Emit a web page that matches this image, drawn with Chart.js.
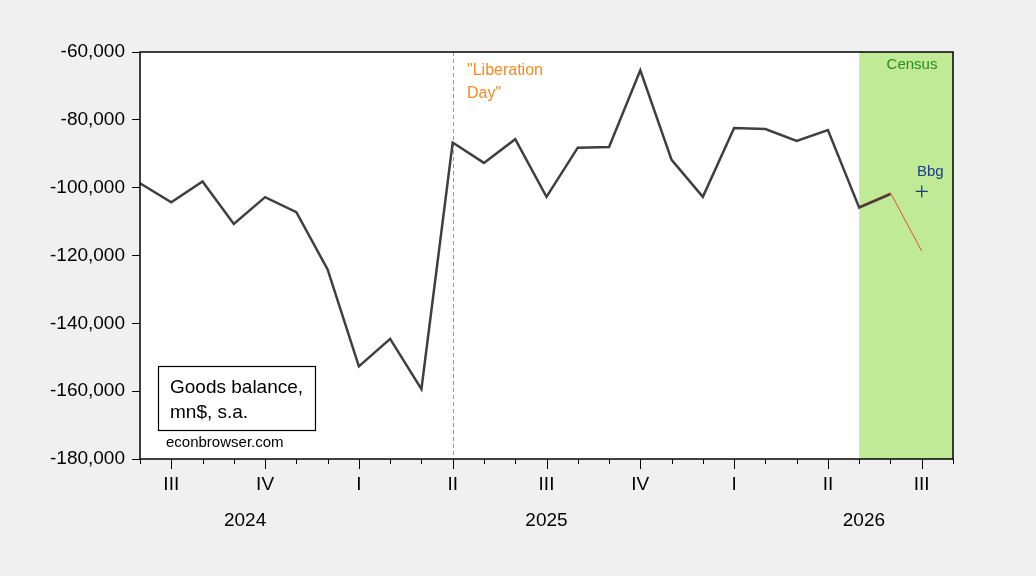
<!DOCTYPE html>
<html><head><meta charset="utf-8">
<script src="https://cdn.jsdelivr.net/npm/chart.js@4/dist/chart.umd.min.js"></script>
<style>html,body{margin:0;padding:0;background:#f0f0f0;}#wrap{width:1036px;height:576px;position:relative;}</style>
</head><body><div id="wrap"><canvas id="c"></canvas></div>
<script>
// ---- data ----
const months = ['Jun 2024','Jul 2024','Aug 2024','Sep 2024','Oct 2024','Nov 2024','Dec 2024',
  'Jan 2025','Feb 2025','Mar 2025','Apr 2025','May 2025','Jun 2025','Jul 2025','Aug 2025','Sep 2025','Oct 2025','Nov 2025','Dec 2025',
  'Jan 2026','Feb 2026','Mar 2026','Apr 2026','May 2026','Jun 2026','Jul 2026','Aug 2026'];
const quarterLabels = ['','III','','','IV','','','I','','','II','','','III','','','IV','','','I','','','II','','','III',''];
const yearLabels = ['2024','2025','2026'];
const goodsBalance = [-98700,-104300,-98200,-110700,-102800,-107200,-124100,
  -152700,-144600,-159400,-86700,-92700,-85700,-102700,-88200,-88000,-65400,-91800,-102700,
  -82400,-82700,-86200,-83000,-105900,-101900,null,null];
const bbgPath = [null,null,null,null,null,null,null,null,null,null,null,null,null,null,null,null,null,null,null,
  null,null,null,null,-105500,-101500,-118700,null];
const bbgPoint = [null,null,null,null,null,null,null,null,null,null,null,null,null,null,null,null,null,null,null,
  null,null,null,null,null,null,-101100,null];
const yTicks = [-180000,-160000,-140000,-120000,-100000,-80000,-60000];
const liberationMonth = 'Apr 2025';
const censusStartMonth = 'May 2026';

const FONT = '"Liberation Sans", Arial, sans-serif';

const decor = {
  id: 'decor',
  beforeDraw(chart) {
    const {ctx, chartArea: a} = chart;
    ctx.save();
    ctx.fillStyle = '#f0f0f0';
    ctx.fillRect(0, 0, chart.width, chart.height);
    ctx.fillStyle = '#ffffff';
    ctx.fillRect(a.left, a.top, a.right - a.left, a.bottom - a.top);
    ctx.restore();
  },
  beforeDatasetsDraw(chart) {
    const {ctx, chartArea: a, scales: {x}} = chart;
    ctx.save();
    const gx = x.getPixelForValue(months.indexOf(censusStartMonth));
    ctx.fillStyle = '#c0ea95';
    ctx.fillRect(gx, a.top, a.right - gx, a.bottom - a.top);
    const lx = Math.round(x.getPixelForValue(months.indexOf(liberationMonth))) + 0.5;
    ctx.strokeStyle = '#f08422';
    ctx.lineWidth = 1;
    ctx.setLineDash([4, 3]);
    ctx.beginPath(); ctx.moveTo(lx, a.top); ctx.lineTo(lx, a.bottom); ctx.stroke();
    ctx.restore();
  },
  afterDatasetsDraw(chart) {
    const {ctx, chartArea: a, scales: {x}} = chart;
    ctx.save();
    // frame
    ctx.strokeStyle = '#000'; ctx.lineWidth = 1.5;
    ctx.strokeRect(a.left, a.top, a.right - a.left, a.bottom - a.top);
    // x ticks
    ctx.lineWidth = 1;
    for (let i = 0; i < months.length; i++) {
      const px = Math.round(x.getPixelForValue(i)) + 0.5;
      const len = quarterLabels[i] ? 10 : 5;
      ctx.beginPath(); ctx.moveTo(px, a.bottom); ctx.lineTo(px, a.bottom + len); ctx.stroke();
    }
    // quarter labels
    ctx.fillStyle = '#000';
    ctx.textAlign = 'center'; ctx.textBaseline = 'middle';
    ctx.font = '19px ' + FONT;
    for (let i = 0; i < months.length; i++) {
      if (quarterLabels[i]) ctx.fillText(quarterLabels[i], x.getPixelForValue(i), a.bottom + 26);
    }
    // year labels
    ctx.font = '19px ' + FONT;
    const step = (a.right - a.left) / (months.length - 1);
    const yearCenters = [3.36, 13.0, 23.15];
    yearLabels.forEach((t, k) => ctx.fillText(t, a.left + yearCenters[k] * step, a.bottom + 62));
    // annotations
    ctx.textAlign = 'left';
    ctx.font = '16px ' + FONT;
    ctx.fillStyle = '#f58a1f';
    ctx.fillText('"Liberation', 467, 71);
    ctx.fillText('Day"', 467, 94);
    ctx.textAlign = 'center';
    ctx.font = '15px ' + FONT;
    ctx.fillStyle = '#2a8c1c';
    ctx.fillText('Census', 912, 65);
    ctx.textAlign = 'left';
    ctx.fillStyle = '#1c3d8c';
    ctx.fillText('Bbg', 917, 172);
    // legend box
    ctx.fillStyle = '#fff';
    ctx.fillRect(158.5, 366.5, 157, 64);
    ctx.strokeStyle = '#000'; ctx.lineWidth = 1.2;
    ctx.strokeRect(158.5, 366.5, 157, 64);
    ctx.fillStyle = '#000';
    ctx.font = '19px ' + FONT;
    ctx.fillText('Goods balance,', 170, 388);
    ctx.fillText('mn$, s.a.', 170, 413);
    ctx.font = '15px ' + FONT;
    ctx.fillText('econbrowser.com', 166, 443);
    ctx.restore();
  }
};

new Chart(document.getElementById('c'), {
  type: 'line',
  data: {
    labels: months,
    datasets: [
      {label: 'Bbg path', data: bbgPath, borderColor: '#e0503a', borderWidth: 1, pointRadius: 0, order: 2, spanGaps: false},
      {label: 'Goods balance', data: goodsBalance, borderColor: '#3f3f3f', borderWidth: 2.5, pointRadius: 0, order: 1},
      {label: 'Bbg', data: bbgPoint, showLine: false, pointStyle: 'cross', pointRadius: 6, pointBorderWidth: 1.3,
        borderColor: '#1c3d8c', pointBorderColor: '#1c3d8c', order: 0}
    ]
  },
  options: {
    responsive: true, maintainAspectRatio: false, animation: false, devicePixelRatio: 1,
    layout: {padding: {top: 52, right: 83, left: 0, bottom: 0}},
    plugins: {legend: {display: false}, tooltip: {enabled: false}},
    elements: {line: {tension: 0}},
    scales: {
      x: {
        type: 'category', offset: false,
        grid: {display: false}, border: {display: false},
        ticks: {display: false},
        afterFit(s) { s.height = 117; }
      },
      y: {
        min: -180000, max: -60000,
        afterBuildTicks(s) { s.ticks = yTicks.map(v => ({value: v})); },
        grid: {drawOnChartArea: false, tickLength: 8, color: '#000', lineWidth: 1},
        border: {display: false},
        ticks: {color: '#000', padding: 7, font: {family: FONT, size: 19},
          callback: v => v.toLocaleString('en-US')},
        afterFit(s) { s.width = 140; }
      }
    }
  },
  plugins: [decor]
});
</script>
</body></html>
